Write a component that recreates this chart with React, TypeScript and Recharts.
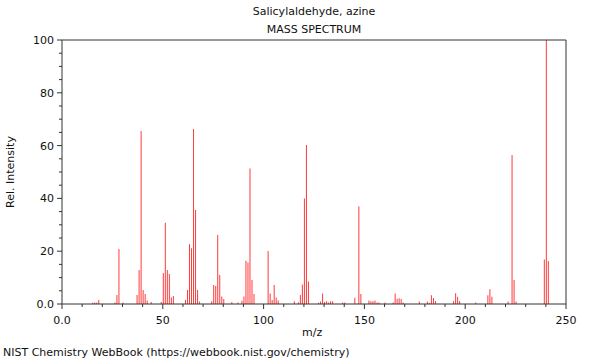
import { BarChart, Bar, XAxis, YAxis, ReferenceLine } from "recharts"

// peak positions (m/z) and relative intensities
const mzValues = [
  15, 16, 17, 18, 26, 27, 28, 30, 37, 38, 39, 40, 41, 42, 44, 49, 50, 51, 52, 53,
  54, 55, 61, 62, 63, 64, 65, 66, 67, 68, 74, 75, 76, 77, 78, 79, 80, 84, 87, 89,
  90, 91, 92, 93, 94, 95, 102, 103, 104, 105, 106, 107, 115, 117, 118, 119, 120, 121, 122, 127,
  128, 129, 130, 131, 132, 133, 134, 139, 140, 145, 147, 148, 152, 153, 154, 155, 156, 157, 160, 164,
  165, 166, 167, 168, 169, 177, 181, 182, 183, 184, 185, 194, 195, 196, 197, 205, 211, 212, 213, 221,
  223, 224, 225, 239, 240, 241,
]

const intensities = [
  0.5, 0.6, 0.6, 1.5, 0.6, 3.4, 20.8, 0.6, 3.4, 12.9, 65.5, 5.3, 3.8, 1.3, 0.8, 0.8, 11.7, 30.8, 12.9, 11.4,
  2.5, 3.0, 1.5, 5.3, 22.6, 21.1, 66.3, 35.6, 5.3, 0.9, 1.0, 7.2, 6.8, 26.1, 11.0, 2.8, 1.9, 0.8, 0.6, 1.2,
  2.8, 16.4, 15.7, 51.3, 9.1, 3.8, 20.1, 4.0, 1.5, 7.2, 2.5, 1.3, 1.0, 0.7, 3.4, 7.4, 40.0, 60.2, 8.5, 0.5,
  0.9, 4.0, 0.8, 1.0, 0.6, 1.0, 1.0, 0.6, 0.6, 2.4, 36.9, 3.8, 1.3, 1.0, 1.0, 1.3, 0.6, 0.6, 0.6, 0.6,
  4.0, 2.0, 2.2, 1.9, 0.6, 0.9, 0.9, 0.5, 3.3, 2.3, 1.1, 1.0, 4.1, 2.7, 1.1, 0.6, 3.3, 5.6, 2.7, 0.9,
  56.4, 9.1, 0.9, 16.9, 100, 16.3,
]

const xTicks = [0, 10, 20, 30, 40, 50, 60, 70, 80, 90, 100, 110, 120, 130, 140, 150, 160, 170, 180, 190, 200, 210, 220, 230, 240, 250]
const yTicks = [0, 5, 10, 15, 20, 25, 30, 35, 40, 45, 50, 55, 60, 65, 70, 75, 80, 85, 90, 95, 100]

const FONT = "DejaVu Sans"
const AXIS = "#333"

const data = mzValues.map((mz, i) => ({ mz, value: intensities[i] }))

function XTick(props: any) {
  const { x, y, payload } = props
  const major = payload.value % 50 === 0
  return (
    <g>
      <line x1={x} x2={x} y1={y} y2={y + (major ? 5 : 3)} stroke={AXIS} />
      {major && (
        <text x={x} y={y + 20} textAnchor="middle" fontSize={11} fontFamily={FONT} fill="#111">
          {payload.value === 0 ? "0.0" : payload.value}
        </text>
      )}
    </g>
  )
}

function YTick(props: any) {
  const { x, y, payload } = props
  const major = payload.value % 20 === 0
  return (
    <g>
      <line x1={x} x2={x - (major ? 5 : 3)} y1={y} y2={y} stroke={AXIS} />
      {major && (
        <text x={x - 8} y={y + 4} textAnchor="end" fontSize={11} fontFamily={FONT} fill="#111">
          {payload.value === 0 ? "0.0" : payload.value}
        </text>
      )}
    </g>
  )
}

export default function App() {
  return (
    <div style={{ position: "absolute", left: 0, top: 0, width: 600, height: 360, background: "#fff", fontFamily: FONT, color: "#111" }}>

      <div style={{ position: "absolute", left: 0, width: 628, top: 5, fontSize: 11, textAlign: "center" }}>
        Salicylaldehyde, azine
      </div>
      <div style={{ position: "absolute", left: 0, width: 628, top: 23, fontSize: 11, textAlign: "center" }}>
        MASS SPECTRUM
      </div>

      <BarChart
        width={600}
        height={360}
        data={data}
        margin={{ top: 40, right: 34, bottom: 26, left: 0 }}
        barSize={1}
      >
        <XAxis
          dataKey="mz"
          type="number"
          domain={[0, 250]}
          ticks={xTicks}
          interval={0}
          tickSize={0}
          tickMargin={0}
          tickLine={false}
          tick={<XTick />}
          stroke={AXIS}
          height={30}
          allowDataOverflow
        />
        <YAxis
          type="number"
          domain={[0, 100]}
          ticks={yTicks}
          interval={0}
          tickSize={0}
          tickMargin={0}
          tickLine={false}
          tick={<YTick />}
          stroke={AXIS}
          width={62}
        />
        <ReferenceLine y={100} stroke={AXIS} />
        <ReferenceLine x={250} stroke={AXIS} />
        <Bar dataKey="value" fill="#ff3b3b" isAnimationActive={false} />
      </BarChart>

      <div style={{ position: "absolute", left: 302, top: 326, fontSize: 11 }}>m/z</div>

      <div
        style={{
          position: "absolute",
          left: 10,
          top: 172,
          fontSize: 11,
          whiteSpace: "nowrap",
          transform: "translate(-50%, -50%) rotate(-90deg)",
        }}
      >
        Rel. Intensity
      </div>

      <div style={{ position: "absolute", left: 3, top: 346, fontSize: 11 }}>
        NIST Chemistry WebBook (https://webbook.nist.gov/chemistry)
      </div>
    </div>
  )
}
